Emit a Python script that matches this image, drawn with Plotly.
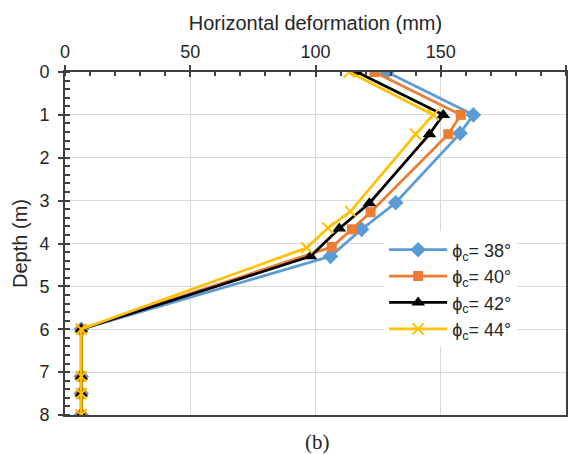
import plotly.graph_objects as go

# Horizontal deformation (mm) along the depth (m) for four friction angles
depth_38 = [0, 1.0, 1.43, 3.05, 3.67, 4.3, 6.0, 7.1, 7.5, 8.0]
defo_38 = [128.5, 163.0, 157.7, 132.0, 118.4, 106.0, 6.5, 6.5, 6.5, 6.5]

depth_40 = [0, 1.0, 1.45, 3.27, 3.67, 4.08, 6.0, 7.1, 7.5, 8.0]
defo_40 = [123.5, 158.0, 153.0, 122.0, 114.5, 106.5, 6.5, 6.5, 6.5, 6.5]

depth_42 = [0, 1.0, 1.45, 3.06, 3.65, 4.3, 6.0, 7.1, 7.5, 8.0]
defo_42 = [116.5, 151.0, 145.5, 121.5, 109.5, 98.0, 6.5, 6.5, 6.5, 6.5]

depth_44 = [0, 1.0, 1.45, 3.25, 3.64, 4.1, 6.0, 7.1, 7.5, 8.0]
defo_44 = [113.5, 147.0, 140.0, 114.0, 105.0, 96.5, 6.5, 6.5, 6.5, 6.5]

series_names = ["ϕ<sub>c</sub>= 38°", "ϕ<sub>c</sub>= 40°", "ϕ<sub>c</sub>= 42°", "ϕ<sub>c</sub>= 44°"]

x_ticks = [0, 50, 100, 150, 200]
y_ticks = [0, 1, 2, 3, 4, 5, 6, 7, 8]

AXIS = "#404040"
GRID = "#d9d9d9"
TEXT = "#262626"
FONT = "Liberation Sans, Arial, sans-serif"

fig = go.Figure()

styles = [
    (defo_38, depth_38, "#5b9bd5", dict(symbol="diamond", size=12, color="#5b9bd5")),
    (defo_40, depth_40, "#ed7d31", dict(symbol="square", size=10, color="#ed7d31")),
    (defo_42, depth_42, "#000000", dict(symbol="triangle-up", size=12, color="#000000")),
    (defo_44, depth_44, "#ffc000", dict(symbol="x-thin", size=11, color="#ffc000",
                                        line=dict(color="#ffc000", width=2))),
]

for name, (xs, ys, col, mk) in zip(series_names, styles):
    fig.add_trace(go.Scatter(
        x=xs, y=ys, name=name, mode="lines+markers",
        line=dict(color=col, width=2.75), marker=mk,
        xaxis="x", yaxis="y",
    ))

# overlay axes carry the inward half of the crossing major ticks
fig.add_trace(go.Scatter(x=[None], y=[None], xaxis="x2", yaxis="y2",
                         showlegend=False, hoverinfo="skip"))

fig.update_layout(
    width=581, height=454,
    margin=dict(l=65, r=15, t=72, b=39),
    paper_bgcolor="white", plot_bgcolor="white",
    font=dict(family=FONT, color=TEXT),
    showlegend=True,
    legend=dict(
        x=0.637, y=0.535, xanchor="left", yanchor="top",
        bgcolor="white", borderwidth=0,
        font=dict(size=18, family=FONT, color=TEXT),
        tracegroupgap=0, itemwidth=58,
    ),
    xaxis=dict(
        side="top", range=[0, 200], tickvals=x_ticks, automargin=False,
        ticks="outside", ticklen=5, tickwidth=1.5, tickcolor=AXIS,
        minor=dict(dtick=10, ticks="inside", ticklen=4, tickwidth=1.5,
                   tickcolor=AXIS, showgrid=False),
        showgrid=True, gridcolor=GRID, gridwidth=1,
        showline=True, linecolor=AXIS, linewidth=2, mirror=True,
        zeroline=False,
        tickfont=dict(size=18, color=TEXT),
        title=dict(text="Horizontal deformation (mm)", font=dict(size=20, color=TEXT),
                   standoff=6),
    ),
    yaxis=dict(
        range=[8, 0], tickvals=y_ticks, automargin=False,
        ticks="outside", ticklen=5, tickwidth=1.5, tickcolor=AXIS,
        ticklabelstandoff=5,
        minor=dict(dtick=0.2, ticks="inside", ticklen=5, tickwidth=1.5,
                   tickcolor=AXIS, showgrid=False),
        showgrid=True, gridcolor=GRID, gridwidth=1,
        showline=True, linecolor=AXIS, linewidth=2, mirror=True,
        zeroline=False,
        tickfont=dict(size=18, color=TEXT),
        title=dict(text="Depth (m)", font=dict(size=20, color=TEXT), standoff=6),
    ),
    xaxis2=dict(
        overlaying="x", side="top", range=[0, 200], tickvals=x_ticks, automargin=False,
        ticks="inside", ticklen=5, tickwidth=1.5, tickcolor=AXIS,
        showticklabels=False, showgrid=False, zeroline=False, showline=False,
    ),
    yaxis2=dict(
        overlaying="y", range=[8, 0], tickvals=y_ticks, automargin=False,
        ticks="inside", ticklen=5, tickwidth=1.5, tickcolor=AXIS,
        showticklabels=False, showgrid=False, zeroline=False, showline=False,
    ),
    annotations=[dict(
        text="(b)", xref="paper", yref="paper", x=0.503, y=-0.078,
        xanchor="center", yanchor="middle", showarrow=False,
        font=dict(family="Liberation Serif, DejaVu Serif, serif", size=21, color=TEXT),
    )],
)

fig.write_html("out.html")
